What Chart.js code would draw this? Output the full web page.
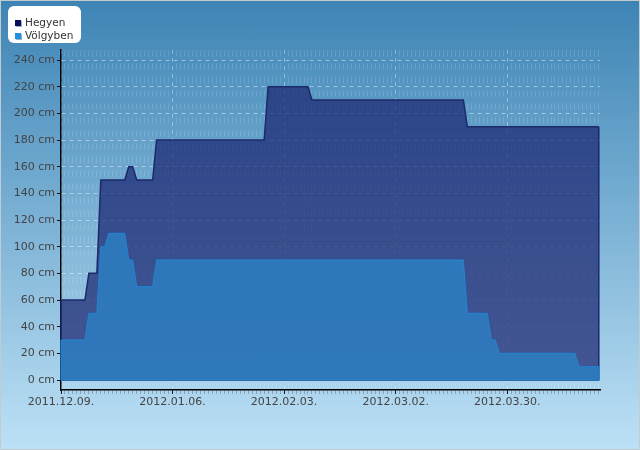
<!DOCTYPE html>
<html>
<head>
<meta charset="utf-8">
<script src="https://cdn.jsdelivr.net/npm/chart.js@4.4.1/dist/chart.umd.min.js"></script>
<style>
  body { margin: 0; }
  #wrap { position: relative; width: 640px; height: 450px; font-family: "DejaVu Sans", sans-serif; }
  #myChart { display: block; background: linear-gradient(#3d84b5, #bde1f6); }
  #frame { position: absolute; left: 0; top: 0; right: 0; bottom: 0; border: 1px solid #c4cbcf; pointer-events: none; }
  #legend { position: absolute; left: 8px; top: 6px; width: 73px; height: 37px; background: #fff; border-radius: 6px; font-size: 10.5px; color: #333; }
  #legend div { position: absolute; left: 7px; height: 13px; line-height: 13px; white-space: nowrap; }
  #legend span { display: inline-block; width: 6px; height: 6px; margin-right: 4px; vertical-align: 0; box-shadow: 1px 1px 0 #9fb3c8; }
</style>
</head>
<body>
<div id="wrap">
  <canvas id="myChart" width="640" height="450"></canvas>
  <div id="frame"></div>
  <div id="legend">
    <div style="top:10px"><span style="background:#0c0c5c"></span>Hegyen</div>
    <div style="top:23px"><span style="background:#1f8fdf"></span>Völgyben</div>
  </div>
</div>
<script>
// snow depth, values only where the level changes (daily steps in between)
const hegyenDates = ['2011.12.09', '2011.12.15', '2011.12.16', '2011.12.18', '2011.12.19', '2011.12.25',
  '2011.12.26', '2011.12.27', '2011.12.28', '2012.01.01', '2012.01.02', '2012.01.29', '2012.01.30',
  '2012.02.09', '2012.02.10', '2012.03.19', '2012.03.20', '2012.04.22'];
const hegyenValues = [60, 60, 80, 80, 150, 150, 160, 160, 150, 150, 180, 180, 220, 220, 210, 210, 190, 190];

const volgyDates = ['2011.12.09', '2011.12.15', '2011.12.16', '2011.12.18', '2011.12.19', '2011.12.20',
  '2011.12.21', '2011.12.25', '2011.12.26', '2011.12.27', '2011.12.28', '2012.01.01', '2012.01.02',
  '2012.03.19', '2012.03.20', '2012.03.25', '2012.03.26', '2012.03.27', '2012.03.28', '2012.04.16',
  '2012.04.17', '2012.04.22'];
const volgyValues = [30, 30, 50, 50, 100, 100, 110, 110, 90, 90, 70, 70, 90, 90, 50, 50, 30, 30, 20, 20, 10, 10];

const xTickDates = ['2011.12.09', '2012.01.06', '2012.02.03', '2012.03.02', '2012.03.30'];
const yTickValues = [0, 20, 40, 60, 80, 100, 120, 140, 160, 180, 200, 220, 240];

const DAY = 864e5;
const start = Date.UTC(2011, 11, 9);
const toDay = s => {
  const [y, m, d] = s.split('.').map(Number);
  return Math.round((Date.UTC(y, m - 1, d) - start) / DAY);
};
const fmt = d => {
  const t = new Date(start + d * DAY);
  const p = n => String(n).padStart(2, '0');
  return t.getUTCFullYear() + '.' + p(t.getUTCMonth() + 1) + '.' + p(t.getUTCDate()) + '.';
};
const majorDays = xTickDates.map(toDay);
const lastDay = toDay(hegyenDates[hegyenDates.length - 1]);
const allDays = Array.from({ length: lastDay + 1 }, (_, i) => i);

// closes the area outline (edges + bottom) like the original polygons
const edges = {
  id: 'edges',
  afterDatasetDraw(chart, args) {
    const ds = chart.data.datasets[args.index];
    const pts = args.meta.data;
    const y0 = chart.scales.y.getPixelForValue(0);
    const ctx = chart.ctx;
    ctx.save();
    ctx.strokeStyle = ds.borderColor;
    ctx.lineWidth = ds.borderWidth;
    ctx.beginPath();
    ctx.moveTo(pts[pts.length - 1].x, pts[pts.length - 1].y);
    ctx.lineTo(pts[pts.length - 1].x, y0);
    ctx.lineTo(pts[0].x, y0);
    ctx.lineTo(pts[0].x, pts[0].y);
    ctx.stroke();
    ctx.restore();
  }
};

const ctx = document.getElementById('myChart').getContext('2d');
const myChart = new Chart(ctx, {
  type: 'line',
  data: {
    datasets: [{
      label: 'Hegyen',
      data: hegyenDates.map((d, i) => ({ x: toDay(d), y: hegyenValues[i] })),
      borderColor: '#1c2a6c',
      backgroundColor: 'rgba(26,38,112,0.72)',
      borderWidth: 1.5,
      fill: 'origin',
      order: 1
    }, {
      label: 'Völgyben',
      data: volgyDates.map((d, i) => ({ x: toDay(d), y: volgyValues[i] })),
      borderColor: '#1e86d4',
      backgroundColor: 'rgba(46,122,188,0.94)',
      borderWidth: 1,
      fill: 'origin',
      order: 0
    }]
  },
  options: {
    responsive: false,
    animation: false,
    elements: { point: { radius: 0 }, line: { tension: 0 } },
    layout: { padding: { top: 50, right: 40, left: 0, bottom: 0 } },
    plugins: { legend: { display: false }, tooltip: { enabled: false } },
    scales: {
      x: {
        type: 'linear',
        min: 0,
        max: lastDay + 0.3,
        afterBuildTicks: s => { s.ticks = allDays.map(v => ({ value: v })); },
        afterFit: s => { s.height = 60; },
        ticks: {
          autoSkip: false,
          maxRotation: 0,
          padding: 2,
          color: '#444',
          font: { family: 'DejaVu Sans', size: 11 },
          callback: v => majorDays.includes(v) ? fmt(v) : ''
        },
        grid: {
          color: c => majorDays.includes(c.tick && c.tick.value) ? 'rgba(255,255,255,0.35)' : 'rgba(255,255,255,0.13)',
          tickColor: c => majorDays.includes(c.tick && c.tick.value) ? '#111' : 'rgba(60,70,80,0.35)',
          tickLength: 4
        },
        border: {
          color: '#000',
          width: 1.5,
          dash: c => majorDays.includes(c.tick && c.tick.value) ? [4, 4] : [6.67, 6.67]
        }
      },
      y: {
        min: -7.5,
        max: 247.5,
        afterBuildTicks: s => { s.ticks = yTickValues.map(v => ({ value: v })); },
        afterFit: s => { s.width = 61; },
        ticks: {
          padding: 2,
          color: '#444',
          font: { family: 'DejaVu Sans', size: 11 },
          callback: v => v + ' cm'
        },
        grid: {
          color: 'rgba(255,255,255,0.45)',
          tickColor: '#111',
          tickLength: 4
        },
        border: { color: '#000', width: 1.5, dash: [4, 4] }
      }
    }
  },
  plugins: [edges]
});
</script>
</body>
</html>
